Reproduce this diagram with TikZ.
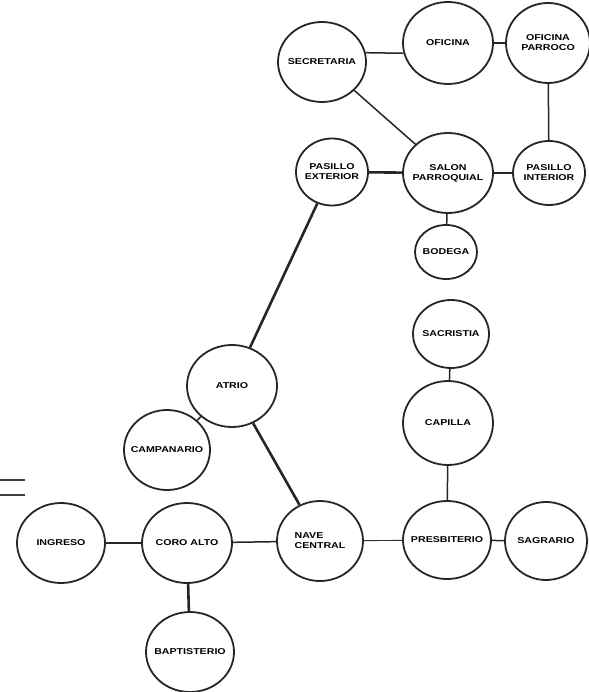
\documentclass[tikz,border=0pt]{standalone}
\usepackage{fontspec}
\setmainfont{Liberation Sans}
\newfontfamily\roomfont[FakeStretch=1.25]{Liberation Sans}
\usetikzlibrary{shapes.geometric}

\begin{document}
\begin{tikzpicture}[
      x = 1pt,
      y = -1pt,
      font = \roomfont\fontsize{8.5}{10}\selectfont\bfseries,
      room/.style={
        ellipse,
        draw = black!85,
        line width = 1.8pt,
        inner xsep = -25pt,
        inner ysep = -4pt,
        minimum width = 88pt,
        minimum height = 80pt,
        align = center,
      },
      small room/.style={
        room,
        minimum width = 72pt,
        minimum height = 67pt,
      },
      link/.style={draw = black!85, line width = 1.5pt},
      thick link/.style={draw = black!85, line width = 2.6pt},
      thin link/.style={draw = black!80, line width = 0.9pt},
    ]
    \useasboundingbox (0,0) rectangle (588,692);
    % upper wing
    \node[room] (sec) at (322,62) {SECRETARIA};
    \node[room, minimum width = 90pt, minimum height = 82pt] (ofi) at (448,43) {OFICINA};
    \node[room, minimum width = 84pt] (par) at (548,43) {OFICINA\\PARROCO};
    \node[small room] (pext) at (332,172) {PASILLO\\EXTERIOR};
    \node[room, minimum width = 90pt] (salon) at (448,173) {SALON\\PARROQUIAL};
    \node[small room, minimum height = 64pt] (pint) at (549,173) {PASILLO\\INTERIOR};
    \node[room, minimum width = 62pt, minimum height = 54pt] (bod) at (446,252) {BODEGA};
    \node[small room, minimum width = 76pt, minimum height = 68pt] (sac) at (451,334) {SACRISTIA};
    \node[room, minimum width = 90pt, minimum height = 84pt] (cap) at (448,423) {CAPILLA};
    % church
    \node[room, minimum width = 90pt, minimum height = 82pt] (atrio) at (232,386) {ATRIO};
    \node[room, minimum width = 86pt] (camp) at (167,450) {CAMPANARIO};
    \node[room] (ing) at (61,543) {INGRESO};
    \node[room, minimum width = 90pt] (coro) at (187,543) {CORO ALTO};
    \node[room, minimum width = 86pt, align = left] (nave) at (320,541) {NAVE\\CENTRAL};
    \node[room, minimum height = 78pt] (pres) at (447,540) {PRESBITERIO};
    \node[room, minimum width = 82pt, minimum height = 78pt] (sag) at (546,541) {SAGRARIO};
    \node[room] (bapt) at (190,652) {BAPTISTERIO};

    \draw[link] (sec.12) -- (ofi.193);
    \draw[link] (ofi) -- (par);
    \draw[link] (par) -- (pint);
    \draw[link] (sec) -- (salon);
    \draw[thick link] (pext) -- (salon);
    \draw[link] (salon) -- (pint);
    \draw[link] (salon) -- (bod);
    \draw[thick link] (pext) -- (atrio);
    \draw[link] (sac) -- (cap);
    \draw[link] (cap) -- (pres);
    \draw[link] (atrio) -- (camp);
    \draw[thick link] (atrio) -- (nave);
    \draw[link] (ing) -- (coro);
    \draw[link] (coro) -- (nave);
    \draw[thick link] (coro) -- (bapt);
    \draw[thin link] (nave) -- (pres);
    \draw[link] (pres) -- (sag);

    % mark at the left edge
    \draw[line width = 2pt, black!75] (0,480) -- (25,480) (0,495) -- (25,495);
  \end{tikzpicture}
\end{document}
